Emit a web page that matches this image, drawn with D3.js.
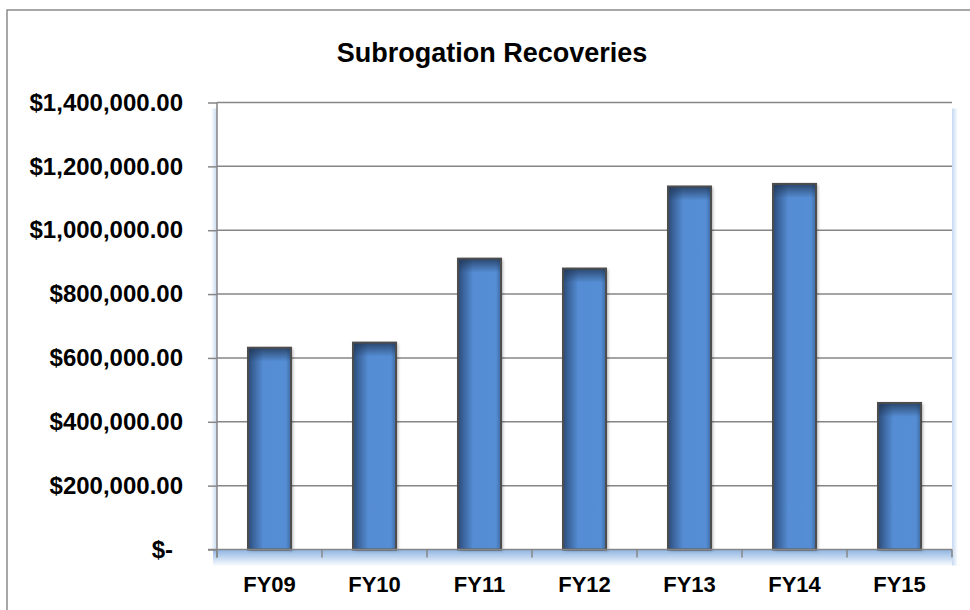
<!DOCTYPE html>
<html>
<head>
<meta charset="utf-8">
<script src="https://cdn.jsdelivr.net/npm/d3@7"></script>
<style>
  body { margin: 0; background: #fff; }
  text { font-family: "Liberation Sans", Arial, sans-serif; font-weight: bold; fill: #000; }
</style>
</head>
<body>
<div id="chart"></div>
<script>
// chart data
var categories = ["FY09", "FY10", "FY11", "FY12", "FY13", "FY14", "FY15"];
var recoveries = [632000, 648000, 911000, 880000, 1137000, 1145000, 459000];
var yTicks = [0, 200000, 400000, 600000, 800000, 1000000, 1200000, 1400000];

var width = 970, height = 610;
var plot = {left: 217, right: 952, top: 102.5, bottom: 549.5};

var svg = d3.select("#chart")
    .append("svg")
    .attr("width", width)
    .attr("height", height);

var defs = svg.append("defs");

// bar fill, darker on the left edge
var barGrad = defs.append("linearGradient").attr("id", "barGrad")
    .attr("x1", "0").attr("x2", "1").attr("y1", "0").attr("y2", "0");
barGrad.append("stop").attr("offset", "0%").attr("stop-color", "#2b4a74");
barGrad.append("stop").attr("offset", "12%").attr("stop-color", "#3a629a");
barGrad.append("stop").attr("offset", "35%").attr("stop-color", "#548cd3");
barGrad.append("stop").attr("offset", "88%").attr("stop-color", "#558ed5");
barGrad.append("stop").attr("offset", "100%").attr("stop-color", "#3f6aa3");

// dark top edge of bars
var topGrad = defs.append("linearGradient").attr("id", "topGrad")
    .attr("x1", "0").attr("x2", "0").attr("y1", "0").attr("y2", "1");
topGrad.append("stop").attr("offset", "0%").attr("stop-color", "#1f3553").attr("stop-opacity", 0.8);
topGrad.append("stop").attr("offset", "100%").attr("stop-color", "#1f3553").attr("stop-opacity", 0);

// floor and side walls
var floorGrad = defs.append("linearGradient").attr("id", "floorGrad")
    .attr("x1", "0").attr("x2", "0").attr("y1", "0").attr("y2", "1");
floorGrad.append("stop").attr("offset", "0%").attr("stop-color", "#8db3e2");
floorGrad.append("stop").attr("offset", "100%").attr("stop-color", "#ffffff");

var wallGrad = defs.append("linearGradient").attr("id", "wallGrad")
    .attr("x1", "1").attr("x2", "0").attr("y1", "0").attr("y2", "0");
wallGrad.append("stop").attr("offset", "0%").attr("stop-color", "#c6d9f1");
wallGrad.append("stop").attr("offset", "100%").attr("stop-color", "#ffffff");

var rWallGrad = defs.append("linearGradient").attr("id", "rWallGrad")
    .attr("x1", "0").attr("x2", "1").attr("y1", "0").attr("y2", "0");
rWallGrad.append("stop").attr("offset", "0%").attr("stop-color", "#c6d9f1");
rWallGrad.append("stop").attr("offset", "100%").attr("stop-color", "#ffffff");

var shadow = defs.append("filter").attr("id", "shadow")
    .attr("x", "-20%").attr("y", "-20%").attr("width", "140%").attr("height", "140%");
shadow.append("feDropShadow").attr("dx", 2).attr("dy", 1).attr("stdDeviation", 1.5)
    .attr("flood-color", "#000").attr("flood-opacity", 0.3);

// outer border (cropped at right and bottom)
svg.append("rect")
    .attr("x", 7).attr("y", 10)
    .attr("width", 980).attr("height", 620)
    .attr("fill", "none")
    .attr("stroke", "#8c8c8c")
    .attr("stroke-width", 1.5);

// scales
var x = d3.scaleBand()
    .domain(categories)
    .range([plot.left, plot.right])
    .paddingInner(0.59)
    .paddingOuter(0.295);

var y = d3.scaleLinear()
    .domain([0, 1400000])
    .range([plot.bottom, plot.top]);

// walls and floor
svg.append("rect")
    .attr("x", plot.left - 6).attr("y", plot.top + 6)
    .attr("width", 6).attr("height", plot.bottom - plot.top - 6)
    .attr("fill", "url(#wallGrad)");
svg.append("rect")
    .attr("x", plot.right).attr("y", plot.top + 6)
    .attr("width", 6).attr("height", plot.bottom - plot.top + 10)
    .attr("fill", "url(#rWallGrad)");
svg.append("rect")
    .attr("x", plot.left - 4).attr("y", plot.bottom)
    .attr("width", plot.right - plot.left + 4).attr("height", 17)
    .attr("fill", "url(#floorGrad)");

// gridlines
svg.append("g")
    .selectAll("line")
    .data(yTicks.filter(function(d) { return d > 0; }))
    .enter()
    .append("line")
    .attr("x1", plot.left).attr("x2", plot.right)
    .attr("y1", function(d) { return y(d); })
    .attr("y2", function(d) { return y(d); })
    .attr("stroke", "#868686")
    .attr("stroke-width", 1.5);

// y axis
var yAxis = d3.axisLeft(y)
    .tickValues(yTicks)
    .tickSize(9)
    .tickPadding(25)
    .tickFormat(function(d) {
        return d === 0 ? "$-" : "$" + d3.format(",.2f")(d);
    });

var yG = svg.append("g")
    .attr("transform", "translate(" + plot.left + ",0)")
    .call(yAxis);
yG.select(".domain")
    .attr("stroke", "#868686").attr("stroke-width", 1.5)
    .attr("d", "M0," + plot.top + "V" + (plot.bottom + 8));
yG.selectAll(".tick line").attr("stroke", "#868686").attr("stroke-width", 1.5);
yG.selectAll(".tick text")
    .attr("font-size", 24)
    .attr("font-family", "Liberation Sans, Arial, sans-serif")
    .attr("font-weight", "bold")
    .attr("dy", "0.32em")
    .attr("dx", function(d) { return d === 0 ? -10 : 0; });

// bars
var bars = svg.append("g")
    .selectAll("g")
    .data(recoveries)
    .enter()
    .append("g");

bars.append("rect")
    .attr("x", function(d, i) { return x(categories[i]); })
    .attr("y", function(d) { return y(d); })
    .attr("width", x.bandwidth())
    .attr("height", function(d) { return y(0) - y(d); })
    .attr("fill", "url(#barGrad)")
    .attr("filter", "url(#shadow)");

bars.append("rect")
    .attr("x", function(d, i) { return x(categories[i]); })
    .attr("y", function(d) { return y(d); })
    .attr("width", x.bandwidth())
    .attr("height", 14)
    .attr("fill", "url(#topGrad)");

bars.append("rect")
    .attr("x", function(d, i) { return x(categories[i]); })
    .attr("y", function(d) { return y(d); })
    .attr("width", x.bandwidth())
    .attr("height", function(d) { return y(0) - y(d); })
    .attr("fill", "none")
    .attr("stroke", "#4d4d4d")
    .attr("stroke-width", 2);

// x axis
var xAxis = d3.axisBottom(x).tickSize(0).tickPadding(0);
var xG = svg.append("g")
    .attr("transform", "translate(0," + plot.bottom + ")")
    .call(xAxis);
xG.select(".domain")
    .attr("stroke", "#868686").attr("stroke-width", 1.5)
    .attr("d", "M" + (plot.left - 9) + ",0H" + plot.right);
xG.selectAll(".tick text")
    .attr("font-size", 22)
    .attr("font-family", "Liberation Sans, Arial, sans-serif")
    .attr("font-weight", "bold")
    .attr("y", 42.5)
    .attr("dy", 0);

// category boundary ticks
svg.append("g")
    .selectAll("line")
    .data(d3.range(categories.length + 1))
    .enter()
    .append("line")
    .attr("x1", function(i) { return plot.left + i * x.step(); })
    .attr("x2", function(i) { return plot.left + i * x.step(); })
    .attr("y1", plot.bottom)
    .attr("y2", plot.bottom + 8)
    .attr("stroke", "#868686")
    .attr("stroke-width", 1.5);

// title
svg.append("text")
    .attr("x", 492)
    .attr("y", 62)
    .attr("text-anchor", "middle")
    .attr("font-size", 27)
    .text("Subrogation Recoveries");
</script>
</body>
</html>
